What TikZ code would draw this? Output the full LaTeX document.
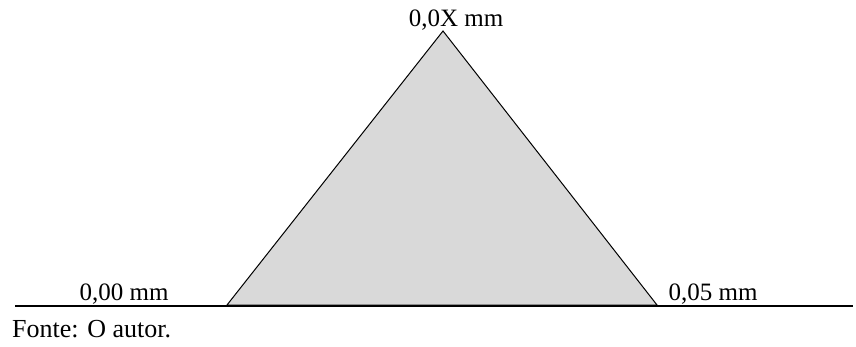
\documentclass[tikz,border=0pt]{standalone}
\usepackage{fontspec}
\setmainfont{Liberation Serif}
\definecolor{trifill}{HTML}{D9D9D9}
\begin{document}
\begin{tikzpicture}[x=1pt,y=-1pt,
  lbl/.style={font=\fontsize{25}{28}\selectfont, inner sep=0pt, anchor=base},
  edge/.style={draw=black, line width=1pt, line join=miter},
  base/.style={draw=black, line width=2pt}]
\useasboundingbox (0,0) rectangle (856,347);
\coordinate (L) at (227,305);
\coordinate (A) at (443,31);
\coordinate (R) at (657,305);
\coordinate (b0) at (15,306);
\coordinate (b1) at (853,306);
\filldraw[edge, fill=trifill] (L) -- (A) -- (R) -- cycle;
\draw[base] (b0) -- (b1);
\node[lbl] (top) at (456,27) {0,0X mm};
\node[lbl] (lft) at (124,300) {0,00 mm};
\node[lbl] (rgt) at (713,300) {0,05 mm};
\node[lbl, font=\fontsize{26}{29}\selectfont, anchor=base west] (src) at (12,337) {Fonte: O autor.};
\end{tikzpicture}
\end{document}
